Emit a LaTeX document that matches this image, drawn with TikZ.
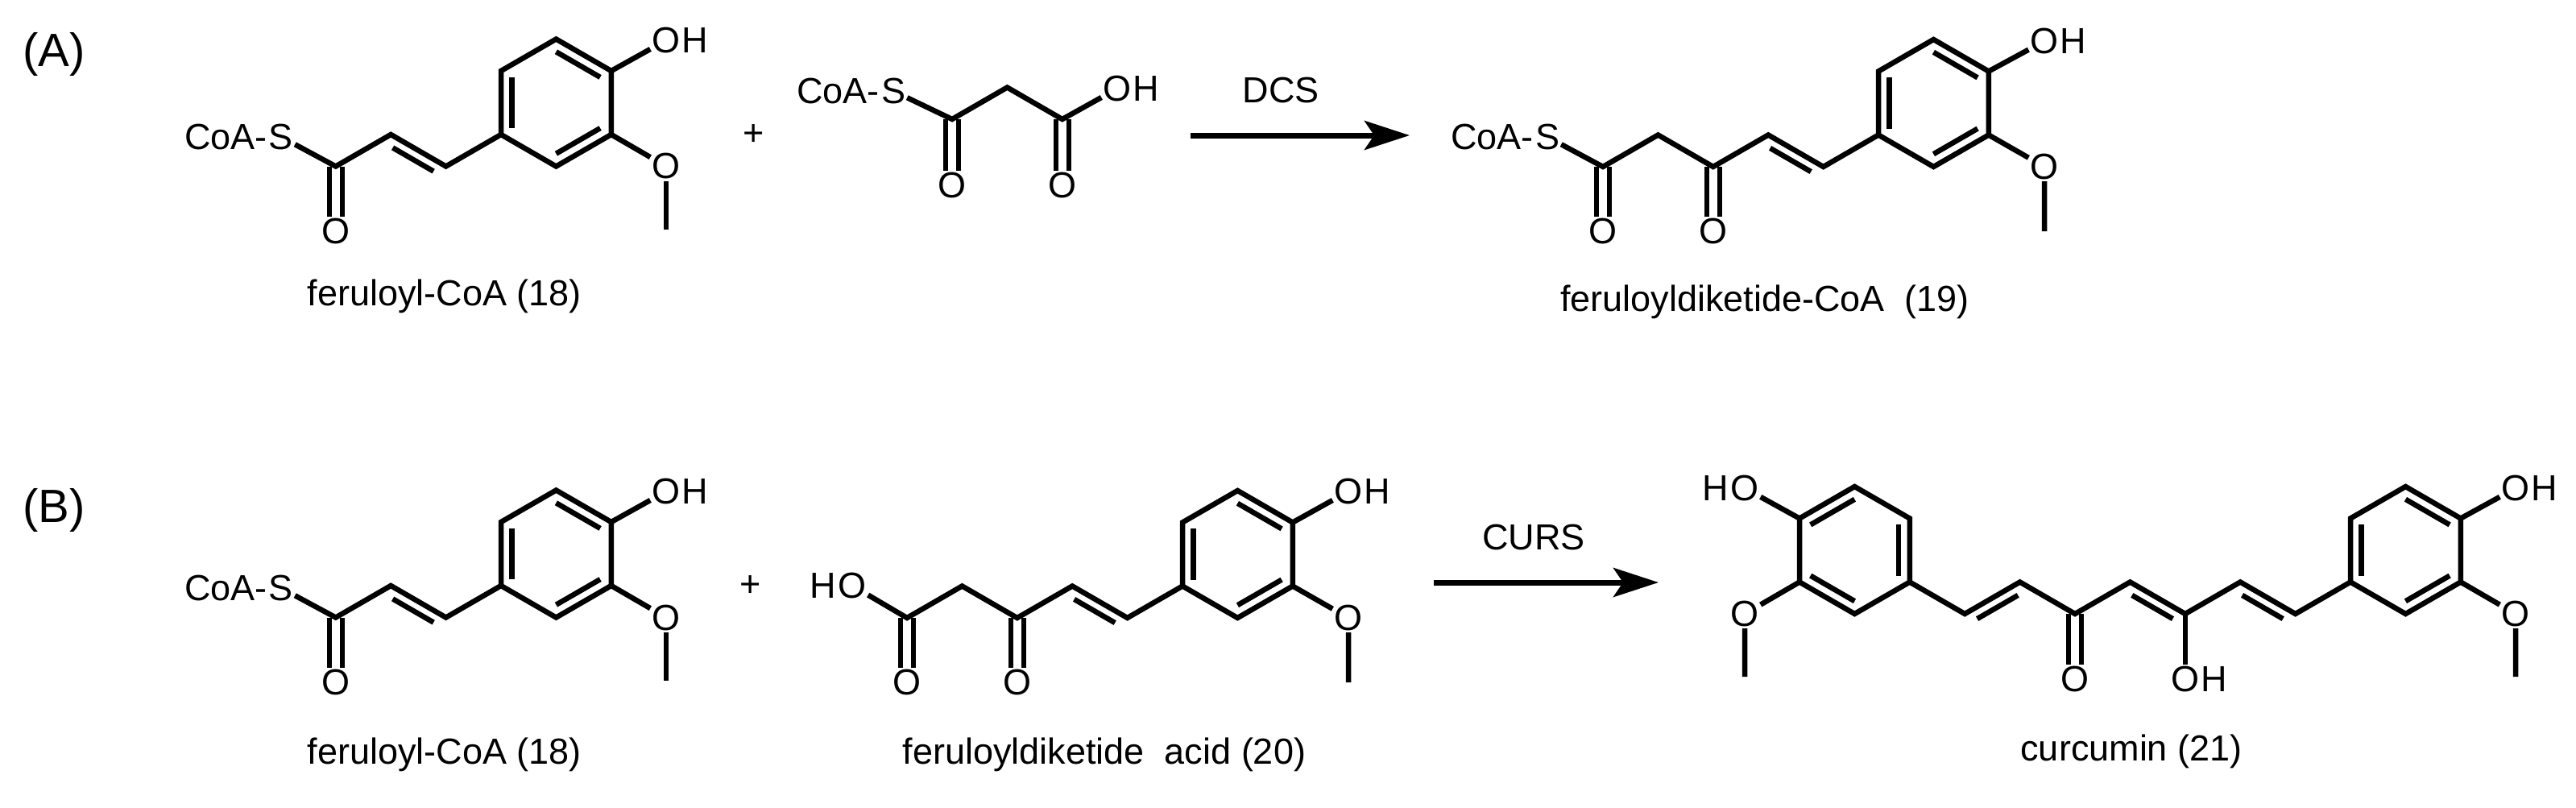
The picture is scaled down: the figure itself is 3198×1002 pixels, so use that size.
\documentclass[tikz,border=0pt]{standalone}
\usepackage{fontspec}
\setmainfont{Liberation Sans}
\usetikzlibrary{calc,arrows.meta}
\tikzset{
  bond/.style={line width=6.5pt, line join=miter, line cap=butt},
  atom/.style={inner sep=2pt, font=\fontsize{45}{50}\selectfont},
  lbltxt/.style={inner sep=0pt, font=\fontsize{45}{50}\selectfont},
  captxt/.style={font=\fontsize{45}{50}\selectfont},
  rxn/.style={line width=7pt, -{Stealth[length=56pt,width=36pt,inset=12pt]}},
}
\newcommand\inb[3]{\draw[bond] ($(#1)!0.13!(#2)!13pt!#3:(#2)$) -- ($(#2)!0.13!(#1)!13pt!-#3:(#1)$);}
\newcommand\rin[3]{\draw[bond] ($(#3)!0.8!(#1)$) -- ($(#3)!0.8!(#2)$);}
\newcommand\dco[2]{\draw[bond] ([xshift=-8pt]#1) -- ([xshift=-8pt]#2.north) ([xshift=8pt]#1) -- ([xshift=8pt]#2.north);}
\newcommand\feruloyl[1]{
  \coordinate (#1r1) at (622,167); \coordinate (#1rtl) at (622,88);
  \coordinate (#1rt) at (690.4,48.5); \coordinate (#1rtr) at (758.8,88);
  \coordinate (#1rbr) at (758.8,167); \coordinate (#1rb) at (690.4,206.5);
  \coordinate (#1rc) at (690.4,127.5);
  \coordinate (#1ca) at (553.6,206.5); \coordinate (#1cb) at (485.2,167);
  \coordinate (#1cc) at (416.8,206.5);
  \node[atom] (#1s) at (349,170) {S};
  \node[lbltxt, anchor=base east] at (#1s.base west) {CoA-};
  \node[atom] (#1o) at (416.8,287) {O};
  \node[atom] (#1oh) at (827,50) {O};
  \node[lbltxt, anchor=base west] at (#1oh.base east) {H};
  \node[atom] (#1om) at (827,206.5) {O};
  \coordinate (#1me) at (827,285);
  \draw[bond] (#1r1) -- (#1rtl) -- (#1rt) -- (#1rtr) -- (#1rbr) -- (#1rb) -- cycle;
  \rin{#1r1}{#1rtl}{#1rc} \rin{#1rt}{#1rtr}{#1rc} \rin{#1rbr}{#1rb}{#1rc}
  \draw[bond] (#1s) -- (#1cc) -- (#1cb) -- (#1ca) -- (#1r1);
  \inb{#1cb}{#1ca}{-90}
  \dco{#1cc}{#1o}
  \draw[bond] (#1rtr) -- (#1oh);
  \draw[bond] (#1rbr) -- (#1om);
  \draw[bond] (#1om) -- (#1me);
}
\begin{document}
\begin{tikzpicture}[x=1pt,y=-1pt]
\useasboundingbox (0,0) rectangle (3198,1002);
\node[captxt, font=\fontsize{58}{60}\selectfont] (lA) at (67,67) {(A)};
\node[captxt, font=\fontsize{58}{60}\selectfont] (lB) at (67,633) {(B)};
% ---- A: feruloyl-CoA
\feruloyl{a}
\node[captxt] (n18a) at (552,368) {feruloyl-CoA (18)};
\node[captxt] (plusA) at (936,168) {+};
% ---- malonyl-CoA
\node[atom] (ms) at (1109,113) {S};
\node[lbltxt, anchor=base east] at (ms.base west) {CoA-};
\coordinate (m1) at (1182,148); \coordinate (m2) at (1250.4,108.5); \coordinate (m3) at (1318.8,148);
\node[atom] (moh) at (1387,110) {O};
\node[lbltxt, anchor=base west] at (moh.base east) {H};
\node[atom] (mo1) at (1182,230) {O};
\node[atom] (mo3) at (1318.8,230) {O};
\draw[bond] (ms) -- (m1) -- (m2) -- (m3) -- (moh);
\dco{m1}{mo1} \dco{m3}{mo3}
% arrow A
\coordinate (arA1) at (1478,168); \coordinate (arA2) at (1750,168);
\draw[rxn] (arA1) -- (arA2);
\node[captxt] (dcs) at (1590,112) {DCS};
% ---- 19
\node[atom] (ds) at (1921,170) {S};
\node[lbltxt, anchor=base east] at (ds.base west) {CoA-};
\coordinate (d1) at (1990,207); \coordinate (d2) at (2058.4,167.5); \coordinate (d3) at (2126.8,207);
\coordinate (d4) at (2195.2,167.5); \coordinate (d5) at (2263.6,207);
\coordinate (dr1) at (2332,167.5); \coordinate (drtl) at (2332,88.5); \coordinate (drt) at (2400.4,49);
\coordinate (drtr) at (2468.8,88.5); \coordinate (drbr) at (2468.8,167.5); \coordinate (drb) at (2400.4,207);
\coordinate (drc) at (2400.4,128);
\node[atom] (do1) at (1990,287) {O};
\node[atom] (do3) at (2126.8,287) {O};
\node[atom] (doh) at (2538,51) {O};
\node[lbltxt, anchor=base west] at (doh.base east) {H};
\node[atom] (dom) at (2538,207) {O};
\coordinate (dme) at (2538,287);
\draw[bond] (dr1) -- (drtl) -- (drt) -- (drtr) -- (drbr) -- (drb) -- cycle;
\rin{dr1}{drtl}{drc} \rin{drt}{drtr}{drc} \rin{drbr}{drb}{drc}
\draw[bond] (ds) -- (d1) -- (d2) -- (d3) -- (d4) -- (d5) -- (dr1);
\inb{d4}{d5}{-90}
\dco{d1}{do1} \dco{d3}{do3}
\draw[bond] (drtr) -- (doh); \draw[bond] (drbr) -- (dom) -- (dme);
\node[captxt] (n19) at (2191,375) {feruloyldiketide-CoA\ \ (19)};
% ---- B: feruloyl-CoA
\begin{scope}[shift={(0,560)}]
\feruloyl{b}
\end{scope}
\node[captxt] (n18b) at (552,937) {feruloyl-CoA (18)};
\node[captxt] (plusB) at (932,728) {+};
% ---- 20
\node[atom] (ho) at (1058,727) {O};
\node[lbltxt, anchor=base east] at (ho.base west) {H};
\coordinate (e1) at (1126,767); \coordinate (e2) at (1194.4,727.5); \coordinate (e3) at (1262.8,767);
\coordinate (e4) at (1331.2,727.5); \coordinate (e5) at (1399.6,767);
\coordinate (er1) at (1468,727.5); \coordinate (ertl) at (1468,648.5); \coordinate (ert) at (1536.4,609);
\coordinate (ertr) at (1604.8,648.5); \coordinate (erbr) at (1604.8,727.5); \coordinate (erb) at (1536.4,767);
\coordinate (erc) at (1536.4,688);
\node[atom] (eo1) at (1126,847) {O};
\node[atom] (eo3) at (1262.8,847) {O};
\node[atom] (eoh) at (1674,610) {O};
\node[lbltxt, anchor=base west] at (eoh.base east) {H};
\node[atom] (eom) at (1674,767) {O};
\coordinate (eme) at (1674,847);
\draw[bond] (er1) -- (ertl) -- (ert) -- (ertr) -- (erbr) -- (erb) -- cycle;
\rin{er1}{ertl}{erc} \rin{ert}{ertr}{erc} \rin{erbr}{erb}{erc}
\draw[bond] (ho) -- (e1) -- (e2) -- (e3) -- (e4) -- (e5) -- (er1);
\inb{e4}{e5}{-90}
\dco{e1}{eo1} \dco{e3}{eo3}
\draw[bond] (ertr) -- (eoh); \draw[bond] (erbr) -- (eom) -- (eme);
\node[captxt] (n20) at (1371,937) {feruloyldiketide\ \ acid (20)};
% arrow B
\coordinate (arB1) at (1780,723); \coordinate (arB2) at (2059,723);
\draw[rxn] (arB1) -- (arB2);
\node[captxt] (curs) at (1904,667) {CURS};
% ---- curcumin
\coordinate (lr) at (2370.8,722.5); \coordinate (ltr) at (2370.8,643.5); \coordinate (lt) at (2302.4,604);
\coordinate (ltl) at (2234,643.5); \coordinate (lbo) at (2234,722.5); \coordinate (lb) at (2302.4,762);
\coordinate (lc) at (2302.4,683);
\coordinate (a2) at (2439.2,762); \coordinate (a1) at (2507.6,722.5); \coordinate (k) at (2576,762);
\coordinate (b1) at (2644.4,722.5); \coordinate (en) at (2712.8,762); \coordinate (b2) at (2781.2,722.5);
\coordinate (b3) at (2849.6,762);
\coordinate (rr1) at (2918,722.5); \coordinate (rtl) at (2918,643.5); \coordinate (rt) at (2986.4,604);
\coordinate (rtr) at (3054.8,643.5); \coordinate (rbr) at (3054.8,722.5); \coordinate (rb) at (2986.4,762);
\coordinate (rc) at (2986.4,683);
\node[atom] (lho) at (2166,606) {O};
\node[lbltxt, anchor=base east] at (lho.base west) {H};
\node[atom] (lom) at (2166,762) {O};
\coordinate (lme) at (2166,840);
\node[atom] (rho) at (3123,606) {O};
\node[lbltxt, anchor=base west] at (rho.base east) {H};
\node[atom] (rom) at (3123,762) {O};
\coordinate (rme) at (3123,840);
\node[atom] (ko) at (2576,843) {O};
\node[atom] (eno) at (2712.8,843) {O};
\node[lbltxt, anchor=base west] at (eno.base east) {H};
\draw[bond] (lr) -- (ltr) -- (lt) -- (ltl) -- (lbo) -- (lb) -- cycle;
\rin{ltl}{lt}{lc} \rin{ltr}{lr}{lc} \rin{lbo}{lb}{lc}
\draw[bond] (rr1) -- (rtl) -- (rt) -- (rtr) -- (rbr) -- (rb) -- cycle;
\rin{rr1}{rtl}{rc} \rin{rt}{rtr}{rc} \rin{rbr}{rb}{rc}
\draw[bond] (lr) -- (a2) -- (a1) -- (k) -- (b1) -- (en) -- (b2) -- (b3) -- (rr1);
\inb{a2}{a1}{-90} \inb{b1}{en}{-90} \inb{b2}{b3}{-90}
\dco{k}{ko}
\draw[bond] (en) -- (eno);
\draw[bond] (ltl) -- (lho); \draw[bond] (lbo) -- (lom) -- (lme);
\draw[bond] (rtr) -- (rho); \draw[bond] (rbr) -- (rom) -- (rme);
\node[captxt] (n21) at (2646,933) {curcumin (21)};
\end{tikzpicture}
\end{document}
